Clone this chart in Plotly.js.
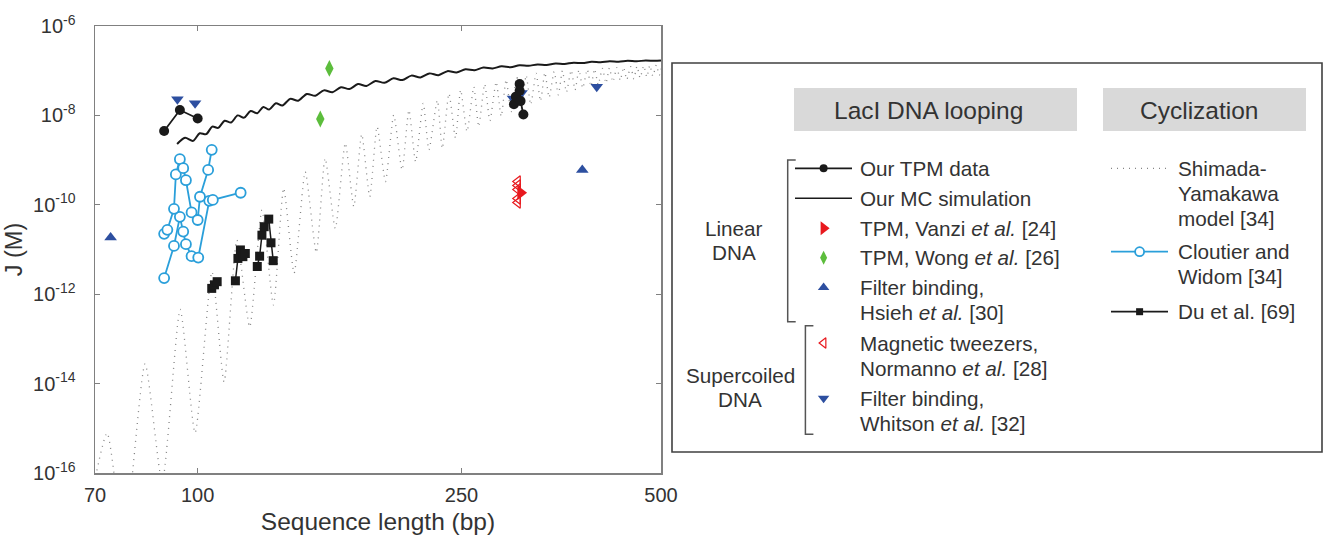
<!DOCTYPE html>
<html><head><meta charset="utf-8">
<script src="https://cdn.plot.ly/plotly-3.0.1.min.js"></script>
<style>html,body{margin:0;padding:0;background:#fff}#chart{width:1327px;height:536px}</style>
</head><body><div id="chart"></div>
<script>
// ---------------- DATA (J given as log10(J / M)) ----------------
// Shimada-Yamakawa model (dotted), alternating troughs / peaks
const syLength = [69, 73, 77.4, 83.3, 88.4, 94.1, 99.1, 105.1, 109.6, 114.6,
  119.8, 125, 130.1, 134.8, 139.8, 145.3, 151, 155.7, 161.3, 167,
  172, 176.8, 181.8, 186.5, 192, 197.6, 203.4, 208.3, 213.2, 218.9,
  223.3, 229.9, 233.9, 239.4, 244.9, 249.3, 254.9, 261, 265.4, 271,
  276, 282, 287, 292, 297, 303, 308, 313, 318, 324,
  329, 334, 339, 345, 350, 355, 360, 366, 371, 376,
  381, 387, 392, 397, 402, 408, 413, 418, 423, 429,
  434, 439, 444, 450, 455, 460, 465, 471, 476, 481,
  486, 492, 497, 502];
const syLogJ = [-16.6, -15.11, -17.5, -13.56, -16.2, -12.34, -15.1, -11.5, -13.96, -10.79,
  -12.73, -10.12, -12.24, -9.63, -11.53, -9.26, -11.07, -8.96, -10.53, -8.62,
  -10.04, -8.42, -9.82, -8.25, -9.48, -7.99, -9.22, -7.88, -9.04, -7.73,
  -8.77, -7.66, -8.74, -7.51, -8.51, -7.43, -8.36, -7.36, -8.25, -7.30,
  -8.12, -7.25, -8.02, -7.20, -7.92, -7.14, -7.84, -7.10, -7.76, -7.06,
  -7.68, -7.04, -7.60, -7.02, -7.54, -7.00, -7.48, -6.99, -7.43, -6.98,
  -7.39, -6.97, -7.35, -6.96, -7.31, -6.95, -7.28, -6.94, -7.25, -6.93,
  -7.22, -6.92, -7.20, -6.91, -7.18, -6.90, -7.16, -6.89, -7.14, -6.88,
  -7.12, -6.87, -7.10, -6.87];

// Our MC simulation (solid wavy line)
const mcLength = [93.1, 95.7, 98.4, 100.7, 103.0, 105.2, 107.4, 109.8, 112.3, 114.9,
  117.5, 120.2, 123.0, 125.6, 128.2, 131.2, 134.2, 137.9, 141.8, 146.1,
  150.5, 155.0, 159.7, 164.5, 169.4, 174.5, 179.7, 185.4, 191.3, 197.4,
  203.6, 210.1, 216.8, 223.7, 230.8, 238.1, 245.7, 253.5, 261.6, 269.9,
  278.5, 287.4, 296.5, 305.9, 315.6, 325.6, 336.0, 346.7, 357.7, 369.1,
  380.8, 392.9, 405.4, 418.3, 431.6, 445.3, 459.5, 474.1, 489.2, 500];
const mcLogJ = [-8.64, -8.50, -8.57, -8.40, -8.42, -8.25, -8.28, -8.12, -8.16, -8.00,
  -8.05, -7.90, -7.95, -7.81, -7.87, -7.73, -7.78, -7.63, -7.67, -7.52,
  -7.56, -7.44, -7.48, -7.37, -7.41, -7.30, -7.34, -7.23, -7.27, -7.17,
  -7.21, -7.11, -7.15, -7.06, -7.10, -7.01, -7.04, -6.97, -6.99, -6.93,
  -6.95, -6.90, -6.92, -6.88, -6.89, -6.86, -6.87, -6.84, -6.85, -6.82,
  -6.83, -6.80, -6.81, -6.79, -6.80, -6.78, -6.79, -6.77, -6.78, -6.77];

// Our TPM data (two groups)
const tpmLength = [89, 94, 100, null, 300, 302, 306, 306, 307, 310];
const tpmLogJ   = [-8.35, -7.88, -8.07, null, -7.75, -7.58, -7.30, -7.45, -7.68, -7.98];

// Cloutier and Widom (two connected series)
const cwLength = [89, 92.1, 94, 95.1, 96, 97.9, 100.2, 104.1, 105.4, 116.1, null,
  89, 90, 92.1, 92.7, 94, 95.1, 96, 97.9, 100, 100.8, 103.7, 105];
const cwLogJ = [-11.64, -10.92, -10.27, -10.60, -10.88, -11.15, -11.18, -9.91, -9.89, -9.73, null,
  -10.65, -10.56, -10.09, -9.32, -8.98, -9.18, -9.45, -10.17, -10.34, -9.82, -9.22, -8.77];

// Du et al.
const duLength = [105, 106, 107, null, 114, 115, 116, 117, 118, null, 123, 124, 125, 126, 128, 129, 130];
const duLogJ = [-11.87, -11.79, -11.72, null, -11.70, -11.20, -11.01, -11.16, -11.09, null,
  -11.38, -11.15, -10.68, -10.49, -10.32, -10.85, -11.25];

// Single-symbol data sets
const vanziLength = [307];            const vanziLogJ = [-9.73];
const wongLength = [158, 153.1];      const wongLogJ = [-6.95, -8.08];
const hsiehLength = [73.9, 380.4];    const hsiehLogJ = [-10.73, -9.22];
const normannoLength = [304, 304, 304, 304, 304];
const normannoLogJ = [-9.48, -9.57, -9.66, -9.86, -9.95];
const whitsonLength = [93.2, 99.1, 299, 308, 400];
const whitsonLogJ = [-7.64, -7.73, -7.62, -7.50, -7.36];

// Axis ticks
const xTickVals = [70, 100, 250, 500];
const xTickText = ['70', '100', '250', '500'];
const yTickExp = [-6, -8, -10, -12, -14, -16];

// ---------------- STYLE / LAYOUT ----------------
const FONT = '"Liberation Sans", Arial, Helvetica, sans-serif';
const TXT = '#333333';
const C = {black:'#1a1a1a', red:'#e8191e', green:'#5cbd3c', navy:'#2d4fa0', sky:'#2a9fda', dots:'#858585'};
const W = 1327, H = 536;
const PLOT = {l:95, r:661, t:26, b:473};

const toJ = a => a.map(v => v === null ? null : Math.pow(10, v));

const traces = [
  {x: syLength, y: toJ(syLogJ), mode:'lines', line:{color:C.dots, width:1.3, dash:'1px,5px', shape:'spline', smoothing:0.6}},
  {x: mcLength, y: toJ(mcLogJ), mode:'lines', line:{color:C.black, width:2, shape:'spline', smoothing:0.8}},
  {x: cwLength, y: toJ(cwLogJ), mode:'lines+markers', line:{color:C.sky, width:1.8},
   marker:{symbol:'circle', size:10, color:'#ffffff', line:{color:C.sky, width:1.8}}},
  {x: duLength, y: toJ(duLogJ), mode:'lines+markers', line:{color:C.black, width:1.5},
   marker:{symbol:'square', size:9, color:C.black}},
  {x: hsiehLength, y: toJ(hsiehLogJ), mode:'markers', marker:{symbol:'triangle-up', size:11, color:C.navy}},
  {x: wongLength, y: toJ(wongLogJ), mode:'markers', marker:{symbol:'diamond-tall', size:12, color:C.green}},
  {x: whitsonLength, y: toJ(whitsonLogJ), mode:'markers', marker:{symbol:'triangle-down', size:11, color:C.navy}},
  {x: normannoLength, y: toJ(normannoLogJ), mode:'markers', marker:{symbol:'triangle-left-open', size:10, color:C.red, line:{width:1.2}}},
  {x: vanziLength, y: toJ(vanziLogJ), mode:'markers', marker:{symbol:'triangle-right', size:13, color:C.red}},
  {x: tpmLength, y: toJ(tpmLogJ), mode:'lines+markers', line:{color:C.black, width:1.8},
   marker:{symbol:'circle', size:10, color:C.black}}
];

// ---------------- custom legend (pixel coordinates of an overlay axis) ----------------
const LEG = {
  box:[672, 63, 1322, 452],
  headY:[88, 131],
  heads:[{text:'LacI DNA looping', x0:794, x1:1077, tx:928}, {text:'Cyclization', x0:1103, x1:1306, tx:1199}],
  left:{sym:823.6, line:[795, 852], text:858},
  right:{sym:1139.6, line:[1111, 1168], text:1175.6},
  gap:25,
  groups:[
    {lines:['Linear', 'DNA'], x:733.5, y:228, brX:787.7, brY:[160, 321.7]},
    {lines:['Supercoiled', 'DNA'], x:740.3, y:375.7, brX:805.4, brY:[325.7, 434.3]}
  ]
};
const entries = [
  {col:'left', y:168.3, lines:['Our TPM data'], line:{color:C.black, width:1.8}, marker:{symbol:'circle', size:8, color:C.black}},
  {col:'left', y:198.3, lines:['Our MC simulation'], line:{color:C.black, width:1.5}},
  {col:'left', y:228.3, lines:['TPM, Vanzi <i>et al.</i> [24]'], marker:{symbol:'triangle-right', size:12, color:C.red}},
  {col:'left', y:257.7, lines:['TPM, Wong <i>et al.</i> [26]'], marker:{symbol:'diamond-tall', size:10, color:C.green}},
  {col:'left', y:287.5, lines:['Filter binding,', 'Hsieh <i>et al.</i> [30]'], marker:{symbol:'triangle-up', size:10, color:C.navy}},
  {col:'left', y:343, lines:['Magnetic tweezers,', 'Normanno <i>et al.</i> [28]'], marker:{symbol:'triangle-left-open', size:9, color:C.red, line:{width:1.2}}},
  {col:'left', y:398.3, lines:['Filter binding,', 'Whitson <i>et al.</i> [32]'], marker:{symbol:'triangle-down', size:10, color:C.navy}},
  {col:'right', y:168.3, lines:['Shimada-', 'Yamakawa', 'model [34]'], line:{color:C.dots, width:1.3, dash:'1px,5px'}},
  {col:'right', y:251.7, lines:['Cloutier and', 'Widom [34]'], line:{color:C.sky, width:1.8}, marker:{symbol:'circle', size:9, color:'#ffffff', line:{color:C.sky, width:1.8}}},
  {col:'right', y:311.7, lines:['Du et al. [69]'], line:{color:C.black, width:1.8}, marker:{symbol:'square', size:7, color:C.black}}
];

const shapes = [];
const annotations = [];
const L2 = {xref:'x2', yref:'y2'};

shapes.push(Object.assign({type:'rect', x0:LEG.box[0], y0:LEG.box[1], x1:LEG.box[2], y1:LEG.box[3],
  line:{color:'#404040', width:1.6}, fillcolor:'rgba(0,0,0,0)'}, L2));
LEG.heads.forEach(h => {
  shapes.push(Object.assign({type:'rect', x0:h.x0, x1:h.x1, y0:LEG.headY[0], y1:LEG.headY[1],
    line:{width:0}, fillcolor:'#d9d9d9', layer:'below'}, L2));
  annotations.push(Object.assign({x:h.tx, y:(LEG.headY[0] + LEG.headY[1]) / 2 + 1, text:h.text,
    showarrow:false, xanchor:'center', yanchor:'middle', font:{size:24.5, color:TXT}}, L2));
});
LEG.groups.forEach(g => {
  shapes.push(Object.assign({type:'path',
    path:`M ${g.brX + 8} ${g.brY[0]} L ${g.brX} ${g.brY[0]} L ${g.brX} ${g.brY[1]} L ${g.brX + 8} ${g.brY[1]}`,
    line:{color:'#555555', width:1.5}}, L2));
  g.lines.forEach((t, i) => annotations.push(Object.assign({x:g.x, y:g.y + i * 24, text:t, showarrow:false,
    xanchor:'center', yanchor:'middle', font:{size:20.7, color:TXT}}, L2)));
});

entries.forEach(e => {
  const col = LEG[e.col];
  e.lines.forEach((t, i) => annotations.push(Object.assign({x:col.text, y:e.y + i * LEG.gap, text:t, showarrow:false,
    xanchor:'left', yanchor:'middle', font:{size:20.7, color:TXT}}, L2)));
  if (e.line) {
    traces.push({x:[col.line[0], col.line[1]], y:[e.y, e.y], xaxis:'x2', yaxis:'y2', mode:'lines', line:e.line});
  }
  if (e.marker) {
    traces.push({x:[col.sym], y:[e.y], xaxis:'x2', yaxis:'y2', mode:'markers', marker:e.marker});
  }
});

const axisCommon = {
  showline:true, linecolor:'#808080', linewidth:1.5, mirror:'ticks',
  ticks:'inside', ticklen:5, tickwidth:1.2, tickcolor:'#808080',
  showgrid:false, zeroline:false, automargin:false, fixedrange:true,
  tickfont:{family:FONT, size:20, color:TXT}
};

const layout = {
  width:W, height:H,
  margin:{l:0, r:0, t:0, b:0, pad:0},
  paper_bgcolor:'#ffffff', plot_bgcolor:'rgba(0,0,0,0)',
  showlegend:false, hovermode:false,
  font:{family:FONT, color:TXT},
  xaxis:Object.assign({}, axisCommon, {type:'log', anchor:'y',
    domain:[PLOT.l / W, PLOT.r / W],
    range:[Math.log10(70) - 1e-5, Math.log10(500) + 1e-5],
    tickvals:xTickVals, ticktext:xTickText, ticklabelstandoff:3,
    title:{text:'Sequence length (bp)', font:{size:24.5, color:TXT}, standoff:8}}),
  yaxis:Object.assign({}, axisCommon, {type:'log', anchor:'x',
    domain:[(H - PLOT.b) / H, (H - PLOT.t) / H],
    range:[-16.0001, -5.9999],
    tickvals:yTickExp.map(e => Math.pow(10, e)),
    ticktext:yTickExp.map(e => '10<sup>' + e + '</sup>'),
    ticklabelstandoff:14,
    title:{text:'J (M)', font:{size:23.5, color:TXT}, standoff:4}}),
  xaxis2:{domain:[0, 1], range:[0, W], visible:false, anchor:'y2', fixedrange:true},
  yaxis2:{domain:[0, 1], range:[H, 0], visible:false, anchor:'x2', fixedrange:true},
  shapes:shapes,
  annotations:annotations
};

Plotly.newPlot('chart', traces, layout, {staticPlot:true, displayModeBar:false});
</script>
</body></html>
